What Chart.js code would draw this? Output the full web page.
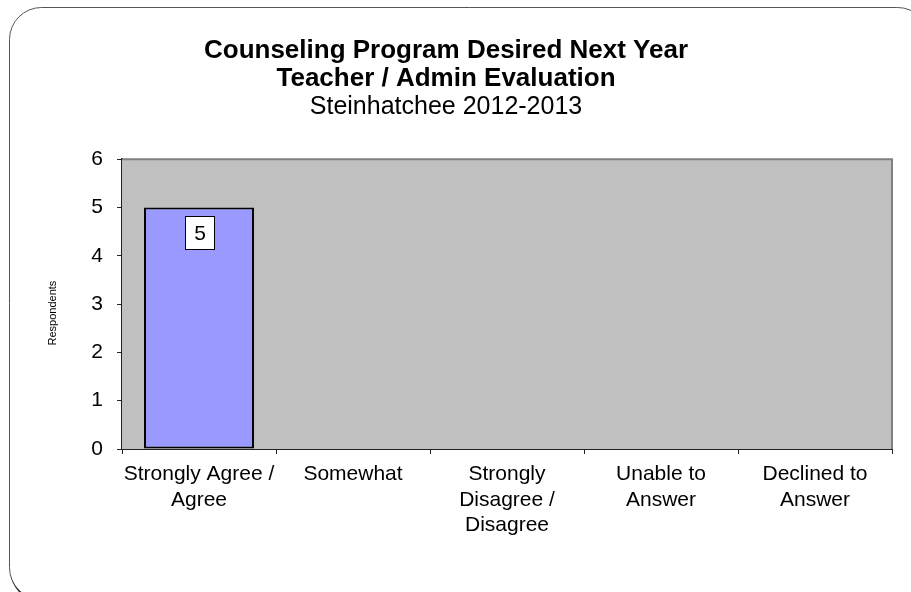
<!DOCTYPE html>
<html>
<head>
<meta charset="utf-8">
<script src="https://cdn.jsdelivr.net/npm/chart.js@4.4.1/dist/chart.umd.min.js"></script>
<style>
  html, body { margin: 0; padding: 0; background: #fff; }
  #wrap { width: 911px; height: 592px; }
</style>
</head>
<body>
<div id="wrap"><canvas id="chart" width="911" height="592"></canvas></div>
<script>
const categories = [
  ['Strongly Agree /', 'Agree'],
  ['Somewhat'],
  ['Strongly', 'Disagree /', 'Disagree'],
  ['Unable to', 'Answer'],
  ['Declined to', 'Answer']
];
const respondents = [5, 0, 0, 0, 0];
const yTicks = [0, 1, 2, 3, 4, 5, 6];

const titleLines = ['Counseling Program Desired Next Year', 'Teacher / Admin Evaluation'];
const subtitleText = 'Steinhatchee 2012-2013';
const yTitle = 'Respondents';

const FONT = 'Arial, "Liberation Sans", Helvetica, sans-serif';

// outer rounded frame, drawn under everything
const framePlugin = {
  id: 'frame',
  beforeDraw(chart) {
    const ctx = chart.ctx;
    ctx.save();
    ctx.fillStyle = '#fff';
    ctx.fillRect(0, 0, chart.width, chart.height);
    ctx.beginPath();
    ctx.roundRect(11.5, 9.5, 920, 592, 32);
    ctx.lineWidth = 2.5;
    ctx.strokeStyle = '#000';
    ctx.stroke();
    ctx.beginPath();
    ctx.roundRect(9.5, 7.5, 920, 592, 32);
    ctx.fillStyle = '#fff';
    ctx.fill();
    ctx.lineWidth = 1;
    ctx.strokeStyle = '#555';
    ctx.stroke();
    ctx.restore();
  }
};

// gray plot area with darker top/right edge, plus the y axis title
const plotAreaPlugin = {
  id: 'plotArea',
  beforeDatasetsDraw(chart) {
    const { ctx, chartArea: a } = chart;
    ctx.save();
    ctx.fillStyle = '#C0C0C0';
    ctx.fillRect(a.left, a.top, a.right - a.left, a.bottom - a.top);
    ctx.beginPath();
    ctx.moveTo(a.left, a.top);
    ctx.lineTo(a.right, a.top);
    ctx.lineTo(a.right, a.bottom);
    ctx.lineWidth = 2;
    ctx.strokeStyle = '#808080';
    ctx.stroke();

    // axis title sits a little below the middle of the plot in the original
    ctx.translate(53, (a.top + a.bottom) / 2 + 9);
    ctx.rotate(-Math.PI / 2);
    ctx.fillStyle = '#000';
    ctx.font = '11px ' + FONT;
    ctx.textAlign = 'center';
    ctx.textBaseline = 'middle';
    ctx.fillText(yTitle, 0, 0);
    ctx.restore();
  }
};

// white boxed value label inside the bar
const valueLabelPlugin = {
  id: 'valueLabel',
  afterDatasetsDraw(chart) {
    const ctx = chart.ctx;
    const meta = chart.getDatasetMeta(0);
    ctx.save();
    meta.data.forEach((bar, i) => {
      const v = respondents[i];
      if (!v) return;
      const w = 29, h = 33;
      const x = Math.round(bar.x - w / 2) + 0.5;
      const y = Math.round(bar.y + 9) + 0.5;
      ctx.fillStyle = '#fff';
      ctx.fillRect(x, y, w, h);
      ctx.lineWidth = 1;
      ctx.strokeStyle = '#000';
      ctx.strokeRect(x, y, w, h);
      ctx.fillStyle = '#000';
      ctx.font = '21px ' + FONT;
      ctx.textAlign = 'center';
      ctx.textBaseline = 'middle';
      ctx.fillText(String(v), x + w / 2, y + h / 2 + 1);
    });
    ctx.restore();
  }
};

new Chart(document.getElementById('chart'), {
  type: 'bar',
  data: {
    labels: categories,
    datasets: [{
      label: yTitle,
      data: respondents,
      backgroundColor: '#9999FF',
      borderColor: '#000',
      borderWidth: 2,
      borderSkipped: false,
      barPercentage: 0.714,
      categoryPercentage: 1.0
    }]
  },
  options: {
    responsive: false,
    animation: false,
    layout: { padding: { top: 0, left: 0, right: 19, bottom: 0 } },
    plugins: {
      legend: { display: false },
      tooltip: { enabled: false },
      title: {
        display: true,
        text: titleLines,
        color: '#000',
        font: { family: FONT, size: 26, weight: 'bold', lineHeight: 1.08 },
        padding: { top: 37, bottom: 0 }
      },
      subtitle: {
        display: true,
        text: subtitleText,
        color: '#000',
        font: { family: FONT, size: 25, weight: 'normal', lineHeight: 1.12 },
        padding: { top: 0, bottom: 38 }
      }
    },
    scales: {
      x: {
        offset: true,
        grid: { offset: true, drawOnChartArea: false, drawTicks: true, tickLength: 5, color: '#222', lineWidth: 1 },
        border: { display: true, color: '#222', width: 2 },
        ticks: {
          color: '#000',
          font: { family: FONT, size: 21, lineHeight: 1.2 },
          padding: 8,
          maxRotation: 0,
          autoSkip: false
        },
        afterFit(scale) { scale.height = 143; }
      },
      y: {
        min: 0,
        max: 6,
        afterBuildTicks(scale) { scale.ticks = yTicks.map(v => ({ value: v })); },
        grid: { drawOnChartArea: false, drawTicks: true, tickLength: 5, color: '#222', lineWidth: 1 },
        border: { display: true, color: '#222', width: 2 },
        ticks: {
          color: '#000',
          font: { family: FONT, size: 21 },
          padding: 14
        },
        afterFit(scale) { scale.width = 122; }
      }
    }
  },
  plugins: [framePlugin, plotAreaPlugin, valueLabelPlugin]
});
</script>
</body>
</html>
